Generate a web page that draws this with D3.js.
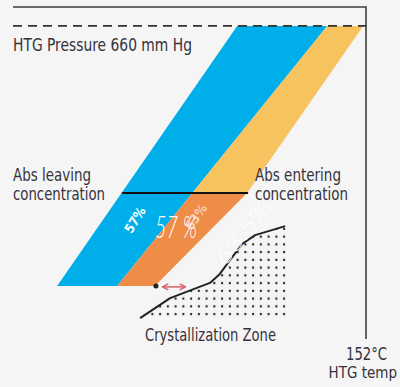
<!DOCTYPE html>
<html>
<head>
  <meta charset="utf-8">
  <title>HTG crystallization diagram</title>
  <style>
    body { margin: 0; background: #f4f5f4; }
    svg { display: block; }
    text { font-family: "Liberation Sans Narrow", "DejaVu Sans Condensed", "Arial Narrow", sans-serif; }
  </style>
</head>
<body>
<svg width="400" height="387"></svg>
<script src="https://d3js.org/d3.v7.min.js"></script>
<script>
  // data, in chart units (x: concentration, y: temperature, both 0..100)
  var pressureLevel = 94.3;   // dashed HTG pressure line
  var absLevel = 44;          // abs leaving / entering line
  var blueBand = [[63.5, 94.3], [89, 94.3], [29.5, 16], [12.5, 16]];
  var yellowBand = [[89, 94.3], [99.2, 94.3], [66.3, 44], [50.8, 44]];
  var orangeBand = [[50.8, 44], [66.3, 44], [40.2, 16], [29.5, 16]];
  var absLine = [30.9, 66.6];
  var crystalCurve = [[36.0, 6.3], [44.5, 12.3], [55.8, 16.9], [58.6, 19.6], [61.2, 23.4], [64.9, 28.6], [68.6, 31.3], [77.1, 34.0]];
  var limitPoint = [40.5, 16];
  var marginArrow = [42.5, 48.7, 15.7];
  var bandLabels = ["57%", "63%"];
  var overlayLabels = ["57 %", "63.5%"];

  var svg = d3.select("svg");
  var width = 400, height = 387;

  var x = d3.scaleLinear().domain([0, 100]).range([13, 366]);
  var y = d3.scaleLinear().domain([0, 100]).range([339, 7]);

  svg.append("rect").attr("width", width).attr("height", height).attr("fill", "#f4f5f4");

  // 枠
  svg.append("path")
    .attr("d", "M" + x(0) + "," + y(100) + "H" + x(100) + "V" + y(0))
    .attr("fill", "none").attr("stroke", "#3c3c3c").attr("stroke-width", 1.6);

  // バンド
  var poly = d3.line().x(function(d) { return x(d[0]); }).y(function(d) { return y(d[1]); });
  svg.append("path").attr("d", poly(blueBand) + "Z").attr("fill", "#00aeea");
  svg.append("path").attr("d", poly(yellowBand) + "Z").attr("fill", "#f7c35f");
  svg.append("path").attr("d", poly(orangeBand) + "Z").attr("fill", "#ef8c47");

  // pressure dashed line
  svg.append("line")
    .attr("x1", x(0)).attr("x2", x(100))
    .attr("y1", y(pressureLevel)).attr("y2", y(pressureLevel))
    .attr("stroke", "#333").attr("stroke-width", 1.6)
    .attr("stroke-dasharray", "9,6");

  // abs line
  svg.append("line")
    .attr("x1", x(absLine[0])).attr("x2", x(absLine[1]))
    .attr("y1", y(absLevel)).attr("y2", y(absLevel))
    .attr("stroke", "#111").attr("stroke-width", 2);

  // crystallization zone dots
  var defs = svg.append("defs");
  var step = 7.75;
  defs.append("pattern")
    .attr("id", "dots")
    .attr("patternUnits", "userSpaceOnUse")
    .attr("x", x(76.8) - step / 2).attr("y", y(7.5) - step / 2)
    .attr("width", step).attr("height", step)
    .append("circle")
    .attr("cx", step / 2).attr("cy", step / 2).attr("r", 1.15)
    .attr("fill", "#222");

  var zone = crystalCurve.concat([[77.8, crystalCurve[crystalCurve.length - 1][1]], [77.8, 6.3]]);
  svg.append("path")
    .attr("d", poly(zone) + "Z")
    .attr("fill", "url(#dots)");

  svg.append("path")
    .attr("d", poly(crystalCurve))
    .attr("fill", "none").attr("stroke", "#222").attr("stroke-width", 2)
    .attr("stroke-linejoin", "round");

  // limit point and arrow
  svg.append("circle")
    .attr("cx", x(limitPoint[0])).attr("cy", y(limitPoint[1])).attr("r", 2.5)
    .attr("fill", "#222");

  defs.append("marker")
    .attr("id", "head")
    .attr("viewBox", "0 0 10 10").attr("refX", 8).attr("refY", 5)
    .attr("markerWidth", 5).attr("markerHeight", 5)
    .attr("orient", "auto-start-reverse")
    .append("path").attr("d", "M1,1L9,5L1,9").attr("fill", "none")
    .attr("stroke", "#d9606a").attr("stroke-width", 2);

  svg.append("line")
    .attr("x1", x(marginArrow[0])).attr("x2", x(marginArrow[1]))
    .attr("y1", y(marginArrow[2])).attr("y2", y(marginArrow[2]))
    .attr("stroke", "#d9606a").attr("stroke-width", 1.5)
    .attr("marker-start", "url(#head)").attr("marker-end", "url(#head)");

  // band labels (rotated)
  svg.append("text")
    .attr("transform", "translate(135,220) rotate(-58)")
    .attr("text-anchor", "middle").attr("dominant-baseline", "central")
    .attr("font-size", 13).attr("font-weight", "bold").attr("fill", "#fff")
    .text(bandLabels[0]);
  svg.append("text")
    .attr("transform", "translate(196,217) rotate(-55)")
    .attr("text-anchor", "middle").attr("dominant-baseline", "central")
    .attr("font-size", 13).attr("font-weight", "bold").attr("fill", "#fbd0bd")
    .text(bandLabels[1]);

  svg.append("text")
    .attr("x", 155).attr("y", 238)
    .style("font-family", "Lato, 'Open Sans', sans-serif")
    .attr("font-size", 32).attr("font-weight", 300).attr("font-style", "italic").attr("fill", "#fff")
    .attr("textLength", 42).attr("lengthAdjust", "spacingAndGlyphs")
    .text(overlayLabels[0]);
  svg.append("text")
    .attr("transform", "translate(242,232) rotate(-51)")
    .attr("text-anchor", "middle").attr("dominant-baseline", "central")
    .style("font-family", "Lato, 'Open Sans', sans-serif")
    .attr("font-size", 22).attr("font-weight", 300).attr("fill", "#fff")
    .attr("textLength", 76).attr("lengthAdjust", "spacingAndGlyphs")
    .text(overlayLabels[1]);

  // 注記
  var labels = [
    { t: "HTG Pressure 660 mm Hg", x: 13, y: 51, s: 18, w: 179 },
    { t: "Abs leaving", x: 13, y: 181, s: 17, w: 78 },
    { t: "concentration", x: 13, y: 200, s: 17, w: 92 },
    { t: "Abs entering", x: 255, y: 181, s: 17, w: 86 },
    { t: "concentration", x: 255, y: 200, s: 17, w: 93 },
    { t: "Crystallization Zone", x: 145, y: 341, s: 17, w: 131 },
    { t: "152°C", x: 346, y: 360, s: 17, w: 41 }
  ];
  svg.selectAll("text.note")
    .data(labels)
    .enter()
    .append("text")
    .attr("class", "note")
    .attr("x", function(d) { return d.x; })
    .attr("y", function(d) { return d.y; })
    .attr("font-size", function(d) { return d.s; })
    .attr("textLength", function(d) { return d.w; })
    .attr("lengthAdjust", "spacingAndGlyphs")
    .attr("fill", "#36323c")
    .text(function(d) { return d.t; });

  // 右下のラベル(はみ出さないよう右寄せ)
  svg.append("text")
    .attr("x", 397).attr("y", 378)
    .attr("text-anchor", "end")
    .attr("font-size", 15)
    .attr("fill", "#36323c")
    .text("HTG temp");
</script>
</body>
</html>
